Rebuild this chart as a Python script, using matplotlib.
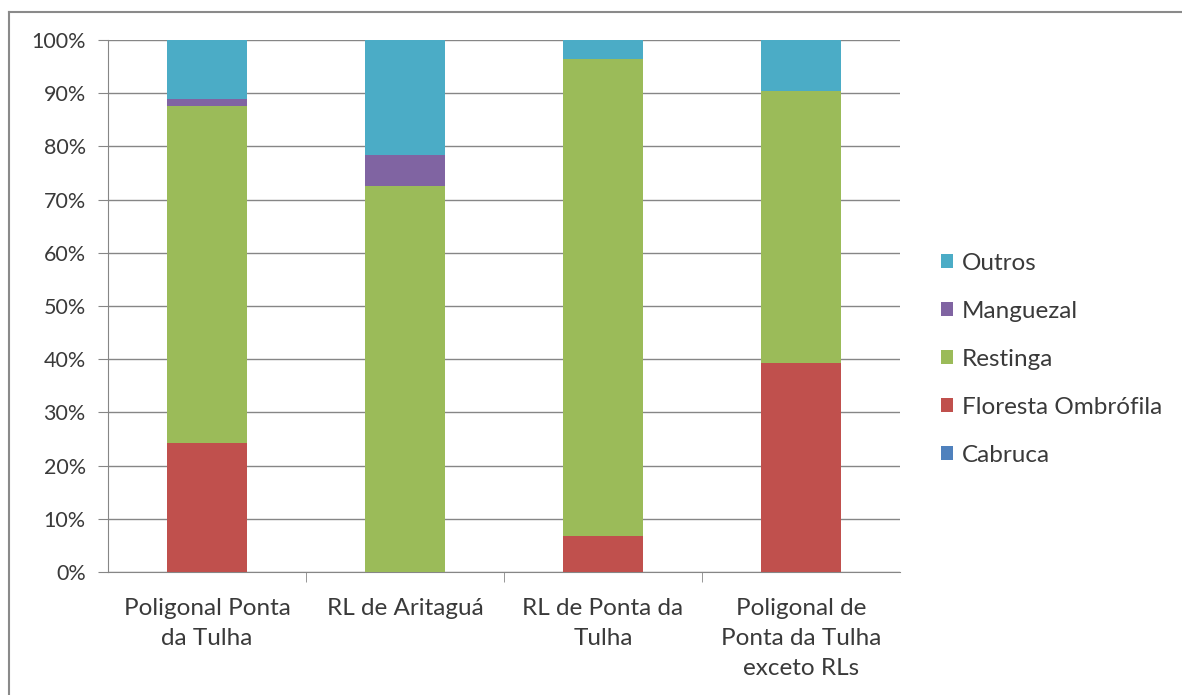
import matplotlib
matplotlib.use("Agg")
import matplotlib.pyplot as plt
from matplotlib.lines import Line2D
from matplotlib.ticker import FixedLocator, PercentFormatter
import numpy as np

categories = ["Poligonal Ponta\nda Tulha", "RL de Aritaguá", "RL de Ponta da\nTulha",
              "Poligonal de\nPonta da Tulha\nexceto RLs"]
series_names = ["Cabruca", "Floresta Ombrófila", "Restinga", "Manguezal", "Outros"]
cabruca = [0.0, 0.0, 0.0, 0.0]
floresta = [24.2, 0.0, 6.8, 39.3]
restinga = [63.4, 72.6, 89.6, 51.1]
manguezal = [1.4, 5.7, 0.0, 0.0]
outros = [11.0, 21.7, 3.6, 9.6]
colors = ["#4F81BD", "#C0504D", "#9BBB59", "#8064A2", "#4BACC6"]

plt.rcParams['font.family'] = ['Lato', 'DejaVu Sans']
W, H = 1182, 695
fig = plt.figure(figsize=(W/100, H/100), dpi=100)
# outer chart frame (top and left edges visible)
fig.lines.append(Line2D([8.5/W, 1.0], [1-11.5/H, 1-11.5/H], transform=fig.transFigure,
                        color="#8a8a8a", linewidth=1.5))
fig.lines.append(Line2D([8.5/W, 8.5/W], [0.0, 1-11.5/H], transform=fig.transFigure,
                        color="#8a8a8a", linewidth=1.5))
ax = fig.add_axes([108/W, 1-572/H, (900-108)/W, (572-40)/H])

x = np.arange(len(categories))
bottom = np.zeros(len(categories))
data = [cabruca, floresta, restinga, manguezal, outros]
handles = []
for name, vals, c in zip(series_names, data, colors):
    vals = np.array(vals)
    h = ax.bar(x, vals, 0.405, bottom=bottom, color=c, label=name, zorder=3)
    handles.append(h)
    bottom += vals

ax.set_xlim(-0.5, len(categories) - 0.5)
ax.set_ylim(0, 100)
ax.yaxis.set_major_locator(FixedLocator(np.arange(0, 101, 10)))
ax.yaxis.set_major_formatter(PercentFormatter(decimals=0))
ax.grid(axis="y", color="#868686", linewidth=1.0, zorder=0)
for s in ["top", "right"]:
    ax.spines[s].set_visible(False)
for s in ["left", "bottom"]:
    ax.spines[s].set_color("#868686")
ax.set_xticks(x)
ax.set_xticklabels(categories, fontsize=17.5, color="#3a3a3a", linespacing=1.52)
ax.xaxis.set_minor_locator(FixedLocator(np.arange(0.5, len(categories) - 1, 1.0)))
ax.tick_params(axis="x", which="major", length=0, pad=19)
ax.tick_params(axis="x", which="minor", length=7, color="#868686", direction="out")
ax.tick_params(axis="y", length=7, color="#868686", labelsize=15.5, labelcolor="#3a3a3a", pad=9)

leg = fig.legend(handles[::-1], series_names[::-1], loc="upper left",
                 bbox_to_anchor=(919/W, 1-231/H), frameon=False, fontsize=17.5,
                 handlelength=0.5, handleheight=0.5, handletextpad=0.35, labelspacing=1.11,
                 labelcolor="#3a3a3a")

fig.savefig("out.png", dpi=100)
